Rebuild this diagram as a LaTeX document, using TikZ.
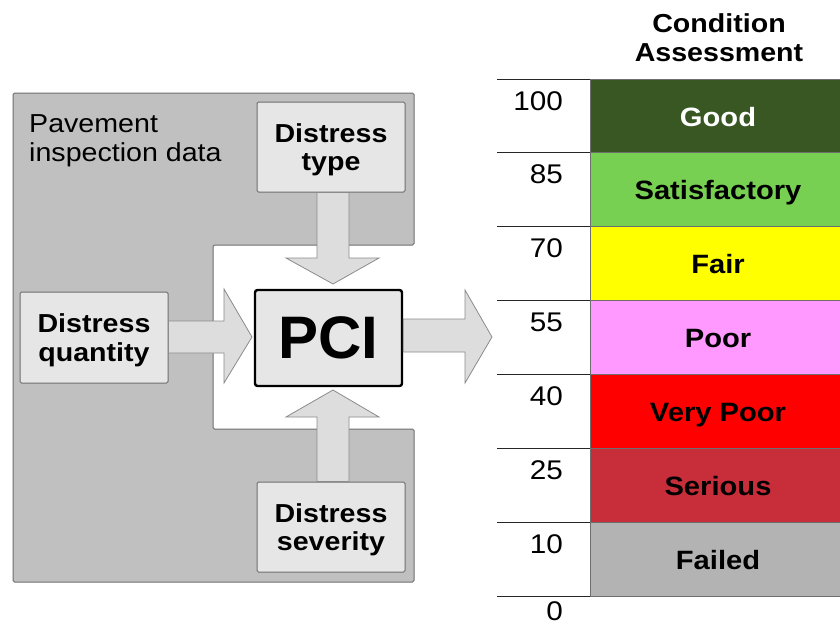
\documentclass[tikz,border=0pt]{standalone}
\usepackage{fontspec}
\setmainfont[FakeStretch=1.1]{Liberation Sans}
\newfontfamily\pcifont{Liberation Sans}
\usetikzlibrary{calc}
\definecolor{panel}{HTML}{C0C0C0}
\definecolor{boxfill}{HTML}{E6E6E6}
\definecolor{arrfill}{HTML}{DDDDDD}
\definecolor{edge}{HTML}{6E6E6E}
\definecolor{cgood}{HTML}{385723}
\definecolor{csat}{HTML}{77D052}
\definecolor{cfair}{HTML}{FFFF00}
\definecolor{cpoor}{HTML}{FF99FF}
\definecolor{cvpoor}{HTML}{FF0000}
\definecolor{cser}{HTML}{C82D3A}
\definecolor{cfail}{HTML}{B3B3B3}
\tikzset{
  inbox/.style={draw=edge, fill=boxfill, line width=1pt, rounded corners=1.5pt,
    minimum width=148pt, minimum height=90pt, inner sep=0pt, align=center,
    text depth=0pt,
    font=\fontsize{26}{28.5}\selectfont\bfseries},
  bigarrow/.style={draw=edge!80, fill=arrfill, line width=0.8pt, line join=miter},
  numlbl/.style={anchor=base east, font=\fontsize{27}{30}\selectfont, inner sep=0pt},
  cell/.style={draw=edge, line width=0.8pt},
  celllbl/.style={anchor=base, font=\fontsize{26.5}{30}\selectfont\bfseries, inner sep=0pt},
  rule/.style={draw=black!85, line width=0.8pt}
}
\begin{document}
\begin{tikzpicture}[x=1pt,y=-1pt]
\useasboundingbox (0,0) rectangle (840,626);
% grey panel
\draw[fill=panel, draw=edge, line width=1pt, rounded corners=1.5pt]
  (13,93) -- (414,93) -- (414,245) -- (213,245) -- (213,429) -- (414,429)
  -- (414,582) -- (13,582) -- cycle;
\node[anchor=base west, align=left, inner sep=0pt,
  font=\fontsize{26}{28.5}\selectfont] (pid) at (29,161)
  {Pavement\\inspection data};
% boxes
\node[inbox] (type) at (331,147) {Distress\\type};
\node[inbox, minimum height=91pt] (qty) at (94,337.5) {Distress\\quantity};
\node[inbox] (sev) at (331,527) {Distress\\severity};
\node[draw=black, fill=boxfill, line width=2.4pt, rounded corners=2.5pt,
  minimum width=147pt, minimum height=96pt, inner sep=0pt,
  font=\pcifont\fontsize{60}{60}\selectfont\bfseries] (pci) at (328.5,338) {PCI};
% arrows
\coordinate (ttip) at (333,284);
\coordinate (btip) at (333,390);
\coordinate (ltip) at (252,337);
\coordinate (rtip) at (492,337);
\path[bigarrow] (317,0 |- type.south) -- (349,0 |- type.south) -- (349,258)
  -- (379,258) -- (ttip) -- (286,258) -- (317,258) -- cycle;
\path[bigarrow] (317,0 |- sev.north) -- (349,0 |- sev.north) -- (349,417)
  -- (379,417) -- (btip) -- (286,417) -- (317,417) -- cycle;
\path[bigarrow] (qty.east |- 0,321) -- (224,321) -- (224,289) -- (ltip)
  -- (224,383) -- (224,353) -- (qty.east |- 0,353) -- cycle;
\path[bigarrow] (pci.east |- 0,319) -- (465,319) -- (465,290) -- (rtip)
  -- (465,383) -- (465,352) -- (pci.east |- 0,352) -- cycle;
% title
\node[align=center, inner sep=0pt, anchor=base,
  font=\fontsize{26}{29}\selectfont\bfseries] (title) at (719,62)
  {Condition\\Assessment};
% table
\foreach \i/\num/\lab/\col/\tc in {0/100/Good/cgood/white,
  1/85/Satisfactory/csat/black, 2/70/Fair/cfair/black,
  3/55/Poor/cpoor/black, 4/40/Very Poor/cvpoor/black,
  5/25/Serious/cser/black, 6/10/Failed/cfail/black}{
  \pgfmathsetmacro{\ytop}{79+73.857*\i}
  \pgfmathsetmacro{\ybot}{79+73.857*(\i+1)}
  \path[cell, fill=\col] (590,\ytop) rectangle (841,\ybot);
  \node[celllbl, text=\tc] (lab\i) at (718,\ytop+47) {\lab};
  \node[numlbl] (num\i) at (563,\ytop+31) {\num};
  \draw[rule] (497,\ytop) -- (590,\ytop);
}
\draw[rule] (497,596) -- (590,596);
\node[numlbl] (num7) at (563,620) {0};
\end{tikzpicture}
\end{document}
